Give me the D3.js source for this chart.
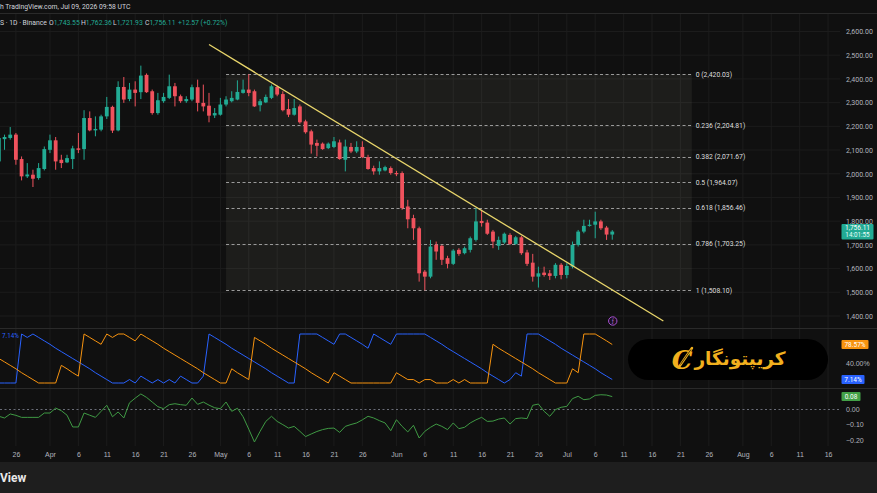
<!DOCTYPE html>
<html>
<head>
<meta charset="utf-8">
<script src="https://cdn.jsdelivr.net/npm/d3@7"></script>
<style>
  html, body { margin: 0; padding: 0; background: #101010; }
  svg { display: block; font-family: Roboto, "Noto Sans", sans-serif; }
</style>
</head>
<body>
<div id="chart"></div>
<script>
var svgWidth = 877;
var svgHeight = 493;

// daily candles, first one is Mar 23 2026
var firstDay = "2026-03-23";
var opens = [2052,2146,2151,2165,2062,1989,1996,1982,2020,2101,2141,2059,2048,2062,2107,2104,2235,2183,2186,2242,
  2282,2183,2366,2315,2355,2344,2417,2348,2256,2306,2320,2369,2327,2306,2313,2365,2299,2287,2246,2249,
  2292,2306,2313,2341,2355,2348,2289,2301,2320,2366,2336,2273,2249,2284,2221,2179,2130,2127,2108,2113,
  2132,2059,2113,2094,2113,2070,2024,2010,2014,2024,2003,2003,1862,1813,1770,1587,1566,1700,1696,1644,
  1620,1679,1665,1679,1721,1801,1794,1756,1696,1710,1742,1704,1732,1668,1625,1566,1583,1580,1569,1616,
  1573,1608,1700,1756,1780,1785,1799,1773,1743.55];
var highs = [2186,2165,2197,2172,2073,2045,2017,2045,2115,2165,2155,2080,2080,2118,2172,2268,2263,2242,2249,2324,
  2287,2390,2408,2383,2390,2456,2423,2355,2341,2341,2418,2383,2334,2327,2376,2397,2376,2341,2277,2320,
  2327,2348,2394,2397,2420.03,2355,2315,2334,2376,2372,2348,2315,2315,2292,2228,2186,2144,2132,2132,2155,
  2144,2144,2130,2137,2137,2080,2034,2052,2034,2031,2012,2010,1890,1827,1777,1594,1721,1714,1700,1654,
  1682,1686,1693,1735,1855,1848,1806,1763,1735,1752,1749,1738,1738,1679,1662,1608,1608,1594,1623,1623,
  1623,1714,1763,1806,1806,1840,1806,1780,1762.36];
var lows = [2038,2101,2144,2038,1972,1982,1944,1975,2014,2087,2017,2024,2045,2020,2087,2059,2179,2158,2179,2231,
  2172,2179,2299,2306,2284,2315,2341,2249,2249,2299,2315,2284,2299,2299,2306,2263,2263,2217,2235,2245,
  2284,2301,2310,2338,2327,2282,2263,2298,2315,2327,2263,2239,2245,2211,2169,2085,2073,2101,2104,2108,
  2059,2010,2087,2087,2066,2017,1996,1996,2010,1996,1990,1848,1770,1721,1545,1508.1,1559,1637,1615,1601,
  1615,1654,1660,1668,1714,1777,1742,1686,1679,1704,1700,1700,1658,1611,1545,1520,1566,1552,1559,1555,
  1559,1601,1693,1749,1777,1728,1763,1721,1721.93];
var closes = [2151,2155,2165,2059,1989,1997,1979,2024,2104,2141,2052,2045,2066,2107,2101,2235,2183,2189,2242,2282,
  2182,2366,2313,2355,2341,2414,2344,2256,2310,2324,2369,2327,2306,2315,2365,2299,2284,2245,2256,2292,
  2313,2320,2345,2355,2341,2284,2306,2324,2369,2334,2268,2249,2277,2217,2175,2123,2118,2104,2127,2137,
  2062,2115,2094,2113,2070,2020,2010,2024,2028,2003,1998,1855,1808,1770,1580,1566,1693,1672,1637,1620,
  1676,1662,1686,1728,1799,1792,1747,1714,1721,1747,1704,1732,1665,1620,1566,1580,1573,1569,1616,1573,
  1611,1700,1756,1780,1785,1799,1770,1743.54,1756.11];

// Aroon (14) in percent, one value per candle
var aroonUp = [50,43,36,29,21,14,7,0,0,0,0,36,29,21,14,100,93,86,79,100,
  93,100,100,93,86,100,93,86,79,71,64,57,50,43,36,29,21,14,7,0,
  0,29,21,14,7,93,86,79,71,64,57,50,43,36,29,21,14,7,0,21,
  14,7,0,0,0,0,0,0,0,0,21,14,7,7,0,7,7,0,0,0,
  7,0,7,0,0,0,0,79,71,64,57,50,43,36,29,21,14,7,0,0,
  0,29,21,100,100,100,93,86,78.57];
var aroonDown = [0,0,0,0,100,93,100,93,86,79,71,64,57,50,43,36,29,21,14,7,
  0,0,0,7,0,14,7,0,7,0,7,0,14,7,0,0,14,100,93,86,
  79,71,64,57,50,43,36,29,21,14,7,0,0,100,100,100,100,93,86,79,
  100,100,93,86,79,71,100,93,86,79,100,100,100,100,100,100,93,86,79,71,
  64,57,50,43,36,29,21,14,7,0,7,21,14,100,100,100,93,86,79,71,
  64,57,50,43,36,29,21,14,7.14];

// money flow oscillator, one value per candle
var cmf = [-0.047,-0.058,-0.032,-0.041,-0.054,-0.054,-0.054,-0.054,-0.026,-0.026,0.006,-0.011,-0.04,-0.116,-0.116,-0.026,-0.04,-0.054,-0.015,0.024,
  -0.05,-0.019,-0.058,0.04,0.07,0.097,0.075,0.045,0.015,0.002,0.028,0.034,0.028,0.024,0.071,0.03,0.045,0.025,0.008,0.002,
  0.045,-0.015,0.005,-0.05,-0.13,-0.213,-0.144,-0.08,-0.047,-0.08,-0.101,-0.123,-0.112,-0.144,-0.178,-0.161,-0.145,-0.133,-0.125,-0.123,
  -0.151,-0.112,-0.1,-0.09,-0.07,-0.047,-0.058,-0.075,-0.09,-0.14,-0.069,-0.112,-0.148,-0.105,-0.187,-0.144,-0.118,-0.097,-0.112,-0.133,
  -0.09,-0.127,-0.118,-0.09,-0.07,-0.054,-0.08,-0.078,-0.065,-0.058,-0.097,-0.062,-0.058,-0.062,0.024,0.032,-0.015,-0.047,-0.004,0.011,
  0.017,0.067,0.082,0.06,0.065,0.088,0.092,0.09,0.08];

var fibRatios = ["0", "0.236", "0.382", "0.5", "0.618", "0.786", "1"];
var fibPrices = [2420.03, 2204.81, 2071.67, 1964.07, 1856.46, 1703.25, 1508.10];
var fibStart = "2026-05-02", fibEnd = "2026-07-23";
var trendPoints = [["2026-04-29", 2545], ["2026-07-18", 1379]];

var priceTicks = [1400, 1500, 1600, 1700, 1800, 1900, 2000, 2100, 2200, 2300, 2400, 2500, 2600];
var aroonTicks = [40];
var cmfTicks = [0, -0.1, -0.2];
var timeTicks = ["2026-03-26", "2026-04-01", "2026-04-06", "2026-04-11", "2026-04-16", "2026-04-21", "2026-04-26",
  "2026-05-01", "2026-05-06", "2026-05-11", "2026-05-16", "2026-05-21", "2026-05-26",
  "2026-06-01", "2026-06-06", "2026-06-11", "2026-06-16", "2026-06-21", "2026-06-26",
  "2026-07-01", "2026-07-06", "2026-07-11", "2026-07-16", "2026-07-21", "2026-07-26",
  "2026-08-01", "2026-08-06", "2026-08-11", "2026-08-16"];

var headerTop = "h TradingView.com, Jul 09, 2026 09:58 UTC";
var lastPrice = "1,756.11", countdown = "14:01:55";

// layout
var plotRight = 840;
var mainTop = 13, mainBottom = 328, aroonBottom = 388, cmfBottom = 446, axisBottom = 462;
var bg = "#101010", gridColor = "#1c1c1c", textColor = "#b2b5be";
var up = "#22ab94", down = "#f0525d";

var parseDay = d3.utcParse("%Y-%m-%d");
var day0 = parseDay(firstDay);
var candles = opens.map(function(o, i) {
  return {date: d3.utcDay.offset(day0, i), o: o, h: highs[i], l: lows[i], c: closes[i],
    up: aroonUp[i], down: aroonDown[i], cmf: cmf[i]};
});

var svg = d3.select("#chart").append("svg")
  .attr("width", svgWidth)
  .attr("height", svgHeight);
svg.append("rect").attr("width", svgWidth).attr("height", svgHeight).attr("fill", bg);

var dayMs = 864e5;
var x = d3.scaleUtc()
  .domain([new Date(+day0 + 0.2 * dayMs), new Date(+day0 + 148.1 * dayMs)])
  .range([0, plotRight]);
var yPrice = d3.scaleLinear().domain([1400, 2600]).range([316, 31.5]);
var yAroon = d3.scaleLinear().domain([0, 100]).range([383, 334]);
var yCmf = d3.scaleLinear().domain([0, -0.1]).range([409, 424.5]);

// grid
var tickDates = timeTicks.map(parseDay);
svg.append("g").selectAll("line").data(tickDates).enter().append("line")
  .attr("x1", d => x(d)).attr("x2", d => x(d))
  .attr("y1", mainTop).attr("y2", cmfBottom)
  .attr("stroke", gridColor);
svg.append("g").selectAll("line").data(priceTicks).enter().append("line")
  .attr("x1", 0).attr("x2", plotRight)
  .attr("y1", d => yPrice(d)).attr("y2", d => yPrice(d))
  .attr("stroke", gridColor);

// pane separators
[mainTop, mainBottom, aroonBottom].forEach(function(yy) {
  svg.append("line").attr("x1", 0).attr("x2", svgWidth)
    .attr("y1", yy + 0.5).attr("y2", yy + 0.5).attr("stroke", "#2a2a2a");
});

svg.append("clipPath").attr("id", "mainClip").append("rect")
  .attr("x", 0).attr("y", mainTop).attr("width", plotRight).attr("height", mainBottom - mainTop);
var main = svg.append("g").attr("clip-path", "url(#mainClip)");

// fib retracement box
var fx0 = x(parseDay(fibStart)), fx1 = x(parseDay(fibEnd));
main.append("rect")
  .attr("x", fx0).attr("y", yPrice(fibPrices[0]))
  .attr("width", fx1 - fx0).attr("height", yPrice(fibPrices[6]) - yPrice(fibPrices[0]))
  .attr("fill", "rgba(210,210,180,0.07)");
main.selectAll(".fib").data(fibPrices).enter().append("line")
  .attr("x1", fx0).attr("x2", fx1)
  .attr("y1", d => Math.round(yPrice(d)) + 0.5).attr("y2", d => Math.round(yPrice(d)) + 0.5)
  .attr("stroke", "#9a9a9a").attr("stroke-dasharray", "3,2.5");
main.selectAll(".fibLabel").data(fibPrices).enter().append("text")
  .attr("x", fx1 + 4).attr("y", d => yPrice(d)).attr("dy", "0.35em")
  .attr("font-size", "6.8px").attr("fill", "#dedede")
  .text((d, i) => fibRatios[i] + " (" + d3.format(",.2f")(d) + ")");

// candles
var bodyW = 3.8;
var cg = main.append("g").selectAll("g").data(candles).enter().append("g");
cg.append("line")
  .attr("x1", d => x(d.date)).attr("x2", d => x(d.date))
  .attr("y1", d => yPrice(d.h)).attr("y2", d => yPrice(d.l))
  .attr("stroke", d => d.c >= d.o ? up : down).attr("stroke-width", 1);
cg.append("rect")
  .attr("x", d => x(d.date) - bodyW / 2)
  .attr("y", d => yPrice(Math.max(d.o, d.c)))
  .attr("width", bodyW)
  .attr("height", d => Math.max(1, Math.abs(yPrice(d.o) - yPrice(d.c))))
  .attr("fill", d => d.c >= d.o ? up : down);

// trend line
main.append("line")
  .attr("x1", x(parseDay(trendPoints[0][0]))).attr("y1", yPrice(trendPoints[0][1]))
  .attr("x2", x(parseDay(trendPoints[1][0]))).attr("y2", yPrice(trendPoints[1][1]))
  .attr("stroke", "#e9d66b").attr("stroke-width", 1.3);

// event marker
var lastDate = candles[candles.length - 1].date;
svg.append("circle").attr("cx", x(lastDate) + 0.5).attr("cy", 321).attr("r", 4.2)
  .attr("fill", "#1a1020").attr("stroke", "#a64fd0").attr("stroke-width", 1);
svg.append("text").attr("x", x(lastDate) + 0.5).attr("y", 321).attr("dy", "0.35em")
  .attr("text-anchor", "middle").attr("font-size", "5px").attr("fill", "#c07ae0").text("ƒ");

// price axis
var priceAxis = svg.append("g")
  .attr("transform", `translate(${plotRight}, 0)`)
  .call(d3.axisRight(yPrice).tickValues(priceTicks).tickFormat(d3.format(",.2f")).tickSize(0).tickPadding(6));
priceAxis.select(".domain").remove();
priceAxis.selectAll("text").attr("fill", textColor).attr("font-size", "7px").attr("font-family", "Roboto, sans-serif");

// last price tag
var lp = yPrice(closes[closes.length - 1]);
svg.append("rect").attr("x", 841.5).attr("y", lp - 7.5).attr("width", 32).attr("height", 15.5)
  .attr("fill", up).attr("rx", 1);
svg.append("text").attr("x", 857.5).attr("y", lp - 1.2).attr("text-anchor", "middle")
  .attr("font-size", "6.5px").attr("fill", "#fff").text(lastPrice);
svg.append("text").attr("x", 857.5).attr("y", lp + 5.8).attr("text-anchor", "middle")
  .attr("font-size", "6.3px").attr("fill", "#e8fffb").text(countdown);

// aroon pane
var aroonLine = function(key) {
  return d3.line().x(d => x(d.date)).y(d => yAroon(d[key]));
};
svg.append("path").datum(candles).attr("d", aroonLine("down"))
  .attr("fill", "none").attr("stroke", "#2962ff").attr("stroke-width", 1);
svg.append("path").datum(candles).attr("d", aroonLine("up"))
  .attr("fill", "none").attr("stroke", "#f7930f").attr("stroke-width", 1);
svg.append("text").attr("x", 2).attr("y", 337.5).attr("font-size", "6.3px").attr("fill", "#2962ff")
  .text(d3.format(".2f")(aroonDown[aroonDown.length - 1]) + "%");

var aroonAxis = svg.append("g")
  .attr("transform", `translate(${plotRight}, 0)`)
  .call(d3.axisRight(yAroon).tickValues(aroonTicks).tickFormat(d => d3.format(".2f")(d) + "%").tickSize(0).tickPadding(6));
aroonAxis.select(".domain").remove();
aroonAxis.selectAll("text").attr("fill", textColor).attr("font-size", "7px");

function valueTag(yv, label, color, w) {
  svg.append("rect").attr("x", 841.5).attr("y", yv - 4.5).attr("width", w).attr("height", 9)
    .attr("fill", color).attr("rx", 1);
  svg.append("text").attr("x", 841.5 + w / 2).attr("y", yv).attr("dy", "0.35em")
    .attr("text-anchor", "middle").attr("font-size", "6.5px").attr("fill", "#fff").text(label);
}

// money flow pane
svg.append("line").attr("x1", 0).attr("x2", plotRight)
  .attr("y1", yCmf(0) + 0.5).attr("y2", yCmf(0) + 0.5)
  .attr("stroke", "#6a6d78").attr("stroke-dasharray", "2,2.5");
svg.append("path").datum(candles)
  .attr("d", d3.line().x(d => x(d.date)).y(d => yCmf(d.cmf)))
  .attr("fill", "none").attr("stroke", "#3f9a44").attr("stroke-width", 1);
var cmfAxis = svg.append("g")
  .attr("transform", `translate(${plotRight}, 0)`)
  .call(d3.axisRight(yCmf).tickValues(cmfTicks).tickFormat(d3.format(".2f")).tickSize(0).tickPadding(6));
cmfAxis.select(".domain").remove();
cmfAxis.selectAll("text").attr("fill", textColor).attr("font-size", "7px")
  .text(d => d3.format(".2f")(d).replace("-", "\u2212"));

valueTag(yAroon(aroonUp[aroonUp.length - 1]), "78.57%", "#f7930f", 27);
valueTag(yAroon(aroonDown[aroonDown.length - 1]), "7.14%", "#2962ff", 23);
valueTag(yCmf(cmf[cmf.length - 1]), "0.08", "#43a047", 19);

// time axis
var fmtTick = function(d) {
  return d.getUTCDate() === 1 ? d3.utcFormat("%b")(d) : String(d.getUTCDate());
};
var timeAxis = svg.append("g")
  .attr("transform", `translate(0, ${cmfBottom + 4})`)
  .call(d3.axisBottom(x).tickValues(tickDates).tickFormat(fmtTick).tickSize(0).tickPadding(2));
timeAxis.select(".domain").remove();
timeAxis.selectAll("text").attr("fill", textColor).attr("font-size", "7px");

// header
svg.append("text").attr("x", 0).attr("y", 9).attr("font-size", "6.8px").attr("fill", "#d1d4dc").text(headerTop);
var legend = svg.append("text").attr("x", 0).attr("y", 24.5).attr("font-size", "6.8px").attr("fill", "#d1d4dc");
legend.append("tspan").text("S · 1D · Binance");
var last = candles[candles.length - 1];
[["O", last.o], ["H", last.h], ["L", last.l], ["C", last.c]].forEach(function(p, i) {
  legend.append("tspan").attr("x", 49 + i * 32).attr("fill", "#d1d4dc").text(p[0]);
  legend.append("tspan").attr("fill", up).text(d3.format(",.2f")(p[1]));
});
var chg = closes[closes.length - 1] - closes[closes.length - 2];
legend.append("tspan").attr("x", 178).attr("fill", up)
  .text("+" + d3.format(".2f")(chg) + " (+" + d3.format(".2f")(chg / closes[closes.length - 2] * 100) + "%)");

// watermark logo
svg.append("rect").attr("x", 628).attr("y", 339).attr("width", 200).attr("height", 41)
  .attr("rx", 20.5).attr("fill", "#000");
svg.append("text").attr("x", 740).attr("y", 358.5).attr("dy", "0.35em")
  .attr("text-anchor", "middle").attr("font-family", "'DejaVu Sans', sans-serif")
  .attr("font-weight", "bold").attr("font-size", "18.5px").attr("fill", "#f2b01e")
  .text("کریپتونگار");
svg.append("text").attr("x", 682).attr("y", 360).attr("dy", "0.35em")
  .attr("text-anchor", "middle").attr("font-family", "'DejaVu Serif', serif")
  .attr("font-style", "italic").attr("font-weight", "bold").attr("font-size", "26px").attr("fill", "#f2b01e")
  .text("C");
svg.append("line").attr("x1", 679).attr("y1", 367).attr("x2", 692).attr("y2", 348)
  .attr("stroke", "#f2b01e").attr("stroke-width", 2.4).attr("stroke-linecap", "round");
svg.append("line").attr("x1", 680.5).attr("y1", 364.5).attr("x2", 691).attr("y2", 349.5)
  .attr("stroke", "#000").attr("stroke-width", 0.7);

// bottom bar
svg.append("rect").attr("x", 0).attr("y", axisBottom).attr("width", svgWidth).attr("height", svgHeight - axisBottom)
  .attr("fill", "#1e1e1e");
svg.append("text").attr("x", 0).attr("y", 481.5).attr("font-size", "12px").attr("font-weight", "bold")
  .attr("fill", "#e8e8e8").text("View");
</script>
</body>
</html>
